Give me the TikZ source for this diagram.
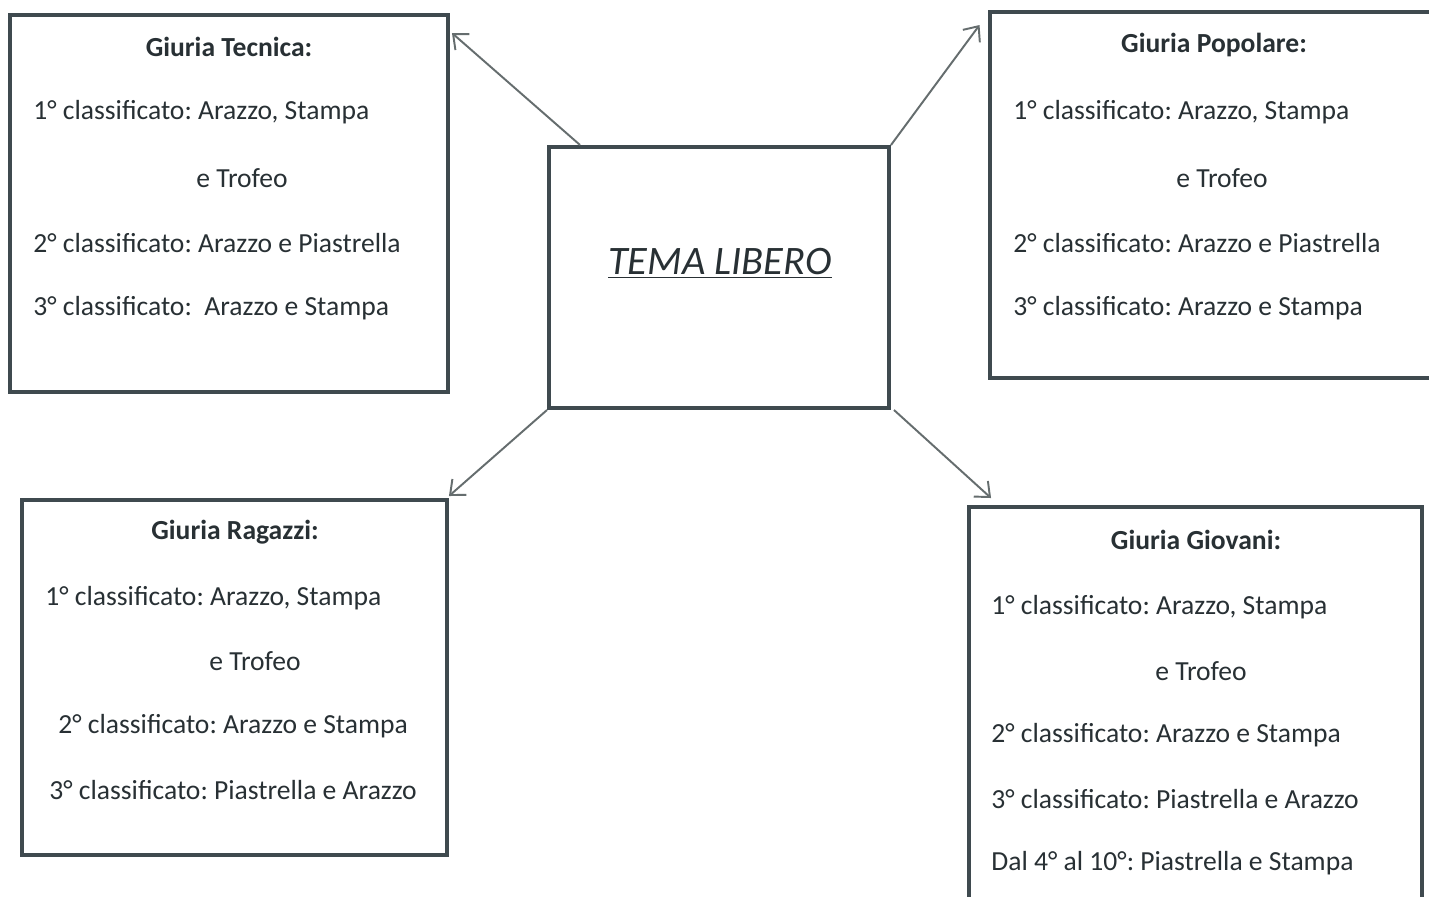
\documentclass[tikz,border=0pt]{standalone}
\usepackage{fontspec}
\setmainfont{Carlito}
\usepackage{xcolor}
\usetikzlibrary{calc, arrows.meta}
\frenchspacing
\definecolor{boxgray}{HTML}{3F4A4F}
\definecolor{arrowgray}{HTML}{656D6E}
\definecolor{inkgray}{HTML}{283034}
\tikzset{
    % frame of each jury box
    juror/.style={
        draw=boxgray,
        line width=2.3pt,
        inner sep=0pt
    },
    % one line of text inside a box
    txt/.style={
        text=inkgray,
        inner sep=0pt,
        font=\fontsize{15.7}{19}\selectfont
    },
    heading/.style={
        txt,
        font=\fontsize{15.7}{19}\selectfont\bfseries
    },
    % thin arrow with open barbs
    pointer/.style={
        draw=arrowgray,
        line width=1.1pt,
        -{Straight Barb[length=7pt, width=12pt]}
    }
}
\begin{document}
\begin{tikzpicture}[x=0.02cm, y=-0.02cm]
            \clip (0,0) rectangle (1429,896);
            \fill[white] (0,0) rectangle (1429,896);
            % boxes
            \node (tema) at (719,277.5)[juror, minimum width=6.8cm, minimum height=5.22cm]{};
            \node (tecnica) at (229,203.5)[juror, minimum width=8.76cm, minimum height=7.54cm]{};
            \node (popolare) at (1217,195)[juror, minimum width=9.1cm, minimum height=7.32cm]{};
            \node (ragazzi) at (234.5,677.5)[juror, minimum width=8.5cm, minimum height=7.1cm]{};
            \node (giovani) at (1195.5,713.5)[juror, minimum width=9.06cm, minimum height=8.26cm]{};
            \node (libero) at (720,263)[txt, font=\fontsize{23}{27}\selectfont\itshape]{\underline{TEMA LIBERO}};
            % Giuria Tecnica
            \node (tec0) at (229,47)[heading]{Giuria Tecnica:};
            \node (tec1) at (33,112)[txt, anchor=west]{1° classificato: Arazzo, Stampa};
            \node (tec2) at (242,178)[txt]{e Trofeo};
            \node (tec3) at (33,243)[txt, anchor=west]{2° classificato: Arazzo e Piastrella};
            \node (tec4) at (33,308)[txt, anchor=west]{3° classificato:\ \ Arazzo e Stampa};
            % Giuria Popolare
            \node (pop0) at (1214,45)[heading]{Giuria Popolare:};
            \node (pop1) at (1013,112)[txt, anchor=west]{1° classificato: Arazzo, Stampa};
            \node (pop2) at (1222,178)[txt]{e Trofeo};
            \node (pop3) at (1013,243)[txt, anchor=west]{2° classificato: Arazzo e Piastrella};
            \node (pop4) at (1013,308)[txt, anchor=west]{3° classificato: Arazzo e Stampa};
            % Giuria Ragazzi
            \node (rag0) at (235,532)[heading]{Giuria Ragazzi:};
            \node (rag1) at (45,598)[txt, anchor=west]{1° classificato: Arazzo, Stampa};
            \node (rag2) at (255,661)[txt]{e Trofeo};
            \node (rag3) at (58,726)[txt, anchor=west]{2° classificato: Arazzo e Stampa};
            \node (rag4) at (49,790)[txt, anchor=west]{3° classificato: Piastrella e Arazzo};
            % Giuria Giovani
            \node (gio0) at (1196,540)[heading]{Giuria Giovani:};
            \node (gio1) at (991,607)[txt, anchor=west]{1° classificato: Arazzo, Stampa};
            \node (gio2) at (1201,671)[txt]{e Trofeo};
            \node (gio3) at (991,735)[txt, anchor=west]{2° classificato: Arazzo e Stampa};
            \node (gio4) at (991,799)[txt, anchor=west]{3° classificato: Piastrella e Arazzo};
            \node (gio5) at (991,863)[txt, anchor=west]{Dal 4° al 10°: Piastrella e Stampa};
            % arrows
            \draw[pointer] ($(tema.north west)+(33,0)$) -- ($(tecnica.north east)+(2,20)$);
            \draw[pointer] (tema.north east) -- ($(popolare.north west)+(-8,15)$);
            \draw[pointer] (tema.south west) -- ($(ragazzi.north east)+(0,-2)$);
            \draw[pointer] ($(tema.south east)+(3,0)$) -- ($(giovani.north west)+(24,-7)$);
        \end{tikzpicture}
\end{document}
